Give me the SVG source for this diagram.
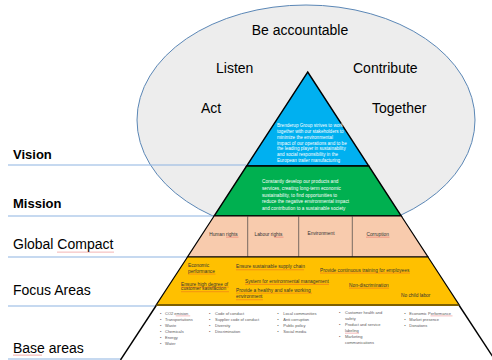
<svg xmlns="http://www.w3.org/2000/svg" width="492" height="360" viewBox="0 0 492 360">
<style>
text{font-family:"Liberation Sans",Arial,sans-serif}
.big{font-size:14px;fill:#000}
.lbl{font-size:14px;fill:#000}
.lblb{font-size:13px;font-weight:bold;fill:#000}
.wt{font-size:4.6px;fill:#fff}
.gt{font-size:4.7px;fill:#fff}
.pt{font-size:4.8px;fill:#333}
.yt{font-size:4.8px;fill:#333}
.bt{font-size:4px;fill:#595959}
.lvl{stroke:#8db3e2;stroke-width:1.2;fill:none}
.edge{stroke:#000;stroke-width:1.4;fill:none}
.sp{fill:url(#wavy)}
</style>
<defs>
<pattern id="wavy" width="2" height="1.2" patternUnits="userSpaceOnUse">
<path d="M0,1 L1,0.2 L2,1" stroke="#e03030" stroke-width="0.45" fill="none"/>
</pattern>
</defs>
<rect width="492" height="360" fill="#fff"/>

<g id="values">
<ellipse cx="306" cy="120" rx="169" ry="115" fill="#ededed" stroke="#5b87b6" stroke-width="1"/>
<text class="big" x="300" y="35" text-anchor="middle">Be accountable</text>
<text class="big" x="216" y="73">Listen</text>
<text class="big" x="353" y="73">Contribute</text>
<text class="big" x="201" y="113">Act</text>
<text class="big" x="372" y="113">Together</text>
</g>

<g id="level-lines">
<line class="lvl" x1="8" y1="165" x2="246" y2="165"/>
<line class="lvl" x1="8" y1="216" x2="214" y2="216"/>
<line class="lvl" x1="8" y1="257" x2="187" y2="257"/>
<line class="lvl" x1="8" y1="306" x2="156" y2="306"/>
<line class="lvl" x1="8" y1="359" x2="121" y2="359"/>
</g>

<g id="labels">
<text class="lblb" x="13" y="159">Vision</text>
<text class="lblb" x="13" y="208">Mission</text>
<text class="lbl" x="13" y="249">Global Compact</text>
<text class="lbl" x="13" y="295">Focus Areas</text>
<text class="lbl" x="13" y="352.5">Base areas</text>
<rect class="sp" x="57" y="251.5" width="57" height="1.2"/>
<rect class="sp" x="13" y="354.5" width="29" height="1.2"/>
</g>

<g id="vision">
<polygon points="307.7,72 368.8,166 246.6,166" fill="#00b0f0" stroke="#000" stroke-width="1.4"/>
<text class="wt" x="277" y="127">Brenderup Group strives to work</text>
<text class="wt" x="277" y="132.8">together with our stakeholders to</text>
<text class="wt" x="277" y="138.7">minimize the environmental</text>
<text class="wt" x="277" y="144.5">impact of our operations and to be</text>
<text class="wt" x="277" y="150.3">the leading player in sustainability</text>
<text class="wt" x="277" y="156.2">and social responsibility in the</text>
<text class="wt" x="277" y="162">European trailer manufacturing</text>
</g>

<g id="mission">
<polygon points="246.6,166 368.8,166 401.3,216 214.1,216" fill="#00b050" stroke="#000" stroke-width="1.4"/>
<text class="gt" x="262" y="183.3">Constantly develop our products and</text>
<text class="gt" x="262" y="190">services, creating long-term economic</text>
<text class="gt" x="262" y="196.7">sustainability, to find opportunities to</text>
<text class="gt" x="262" y="203.4">reduce the negative environmental impact</text>
<text class="gt" x="262" y="210.1">and contribution to a sustainable society</text>
</g>

<g id="global-compact">
<polygon points="214.1,216 401.3,216 428,257 187.5,257" fill="#f8cbad" stroke="#000" stroke-width="1.2"/>
<line x1="247.7" y1="216" x2="247.7" y2="257" stroke="#404040" stroke-width="0.7"/>
<line x1="298.7" y1="216" x2="298.7" y2="257" stroke="#404040" stroke-width="0.7"/>
<line x1="352.3" y1="216" x2="352.3" y2="257" stroke="#404040" stroke-width="0.7"/>
<text class="pt" x="223.5" y="235.7" text-anchor="middle">Human rights</text>
<text class="pt" x="268.5" y="235.7" text-anchor="middle">Labour rights</text>
<text class="pt" x="321" y="234.7" text-anchor="middle">Environment</text>
<text class="pt" x="377.7" y="235.7" text-anchor="middle">Corruption</text>
<rect class="sp" x="226" y="236.6" width="12.5" height="1.2"/>
<rect class="sp" x="274" y="236.6" width="9.5" height="1.2"/>
<rect class="sp" x="366" y="236.6" width="23.5" height="1.2"/>
</g>

<g id="focus-areas">
<polygon points="187.5,257 428,257 459.2,305 156.2,305" fill="#ffc000" stroke="#000" stroke-width="1.2"/>
<line x1="156.2" y1="305.3" x2="459.2" y2="305.3" stroke="#7f6000" stroke-width="1.5"/>
<text class="yt" x="188" y="267.3">Economic</text>
<text class="yt" x="188" y="272.7">performance</text>
<text class="yt" x="236" y="268.3">Ensure sustainable supply chain</text>
<text class="yt" x="320" y="271.7">Provide continuous training for employees</text>
<text class="yt" x="181" y="285.7">Ensure high degree of</text>
<text class="yt" x="181" y="290.3">customer satisfaction</text>
<text class="yt" x="245" y="283">System for environmental management</text>
<text class="yt" x="236" y="291.7">Provide a healthy and safe working</text>
<text class="yt" x="236" y="298.3">environment</text>
<text class="yt" x="349" y="286.7">Non-discrimination</text>
<text class="yt" x="401" y="296.7">No child labor</text>
<rect class="sp" x="188" y="273.5" width="27.5" height="1.2"/>
<rect class="sp" x="236" y="269.1" width="68" height="1.2"/>
<rect class="sp" x="320" y="272.5" width="90" height="1.2"/>
<rect class="sp" x="181" y="286.5" width="48" height="1.2"/>
<rect class="sp" x="181" y="291.1" width="48" height="1.2"/>
<rect class="sp" x="245" y="283.8" width="84" height="1.2"/>
<rect class="sp" x="236" y="292.5" width="76" height="1.2"/>
<rect class="sp" x="236" y="299.1" width="27" height="1.2"/>
<rect class="sp" x="349" y="287.5" width="40" height="1.2"/>
</g>

<g id="base-areas">
<line class="edge" x1="156.2" y1="305.5" x2="120.5" y2="360"/>
<line class="edge" x1="459.2" y1="305.5" x2="494.9" y2="360"/>
<g class="bt">
<text x="160" y="314.5">•</text><text x="165" y="314.5">CO2 emision</text>
<text x="160" y="320.6">•</text><text x="165" y="320.6">Transportations</text>
<text x="160" y="326.7">•</text><text x="165" y="326.7">Waste</text>
<text x="160" y="332.8">•</text><text x="165" y="332.8">Chemicals</text>
<text x="160" y="338.9">•</text><text x="165" y="338.9">Energy</text>
<text x="160" y="345">•</text><text x="165" y="345">Water</text>

<text x="209" y="314.5">•</text><text x="215" y="314.5">Code of conduct</text>
<text x="209" y="320.6">•</text><text x="215" y="320.6">Supplier code of conduct</text>
<text x="209" y="326.7">•</text><text x="215" y="326.7">Diversity</text>
<text x="209" y="332.8">•</text><text x="215" y="332.8">Discrimination</text>

<text x="277.3" y="314.5">•</text><text x="283.3" y="314.5">Local communities</text>
<text x="277.3" y="320.6">•</text><text x="283.3" y="320.6">Anti corruption</text>
<text x="277.3" y="326.7">•</text><text x="283.3" y="326.7">Public policy</text>
<text x="277.3" y="332.8">•</text><text x="283.3" y="332.8">Social media</text>

<text x="339" y="313.5">•</text><text x="345" y="313.5">Customer health and</text>
<text x="345" y="319.6">safety</text>
<text x="339" y="325.7">•</text><text x="345" y="325.7">Product and service</text>
<text x="345" y="331.8">labeling</text>
<text x="339" y="337.9">•</text><text x="345" y="337.9">Marketing</text>
<text x="345" y="344">communications</text>

<text x="404.3" y="314.5">•</text><text x="409.3" y="314.5">Economic Performance</text>
<text x="404.3" y="320.6">•</text><text x="409.3" y="320.6">Market presence</text>
<text x="404.3" y="326.7">•</text><text x="409.3" y="326.7">Donations</text>
</g>
<rect class="sp" x="175.7" y="315.3" width="14.5" height="1.2"/>
<rect class="sp" x="345" y="332.6" width="14" height="1.2"/>
<rect class="sp" x="430.5" y="315.3" width="22" height="1.2"/>
</g>
</svg>
